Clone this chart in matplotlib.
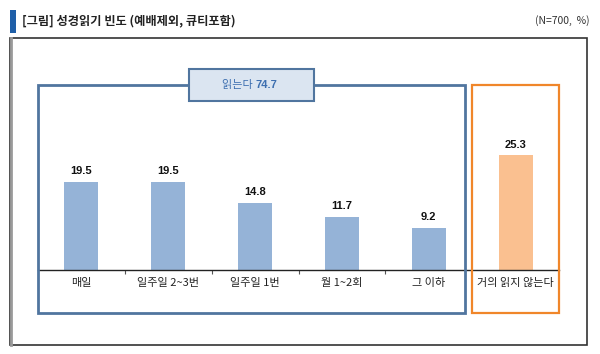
import matplotlib.pyplot as plt
from matplotlib.patches import Rectangle

plt.rcParams['font.family'] = ['Noto Sans CJK KR', 'DejaVu Sans']

categories = ['매일', '일주일 2~3번', '일주일 1번', '월 1~2회', '그 이하', '거의 읽지 않는다']
values = [19.5, 19.5, 14.8, 11.7, 9.2, 25.3]
bar_colors = ['#95b3d7'] * 5 + ['#fac090']
read_label = '읽는다'
read_total = 74.7
title = '[그림] 성경읽기 빈도 (예배제외, 큐티포함)'
note = '(N=700,  %)'

W, H = 600, 354
fig = plt.figure(figsize=(W / 100, H / 100), dpi=100)


def fx(px):
    return px / W


def fy(py):
    return 1 - py / H


def frect(x0, y0, x1, y1, **kw):
    r = Rectangle((fx(x0), fy(y1)), fx(x1) - fx(x0), fy(y0) - fy(y1),
                  transform=fig.transFigure, **kw)
    fig.add_artist(r)
    return r


# header
frect(10, 10, 16, 33, facecolor='#1f5fa8', edgecolor='none')
fig.text(fx(22), fy(21), title, fontsize=8.8, fontweight='bold', color='#222222',
         va='center', ha='left')
fig.text(fx(590), fy(21), note, fontsize=7.5, color='#333333',
         va='center', ha='right')

# outer frame
frect(10, 38, 587, 345, facecolor='none', edgecolor='#333333', linewidth=1.2)
fig.add_artist(plt.Line2D([fx(10.5), fx(10.5)], [fy(38), fy(345)],
                          transform=fig.transFigure, color='#9a9a9a', linewidth=2))

# chart
ax = fig.add_axes([fx(38), fy(270), fx(559) - fx(38), fy(85) - fy(270)])
x = range(len(categories))
ax.bar(x, values, width=0.39, color=bar_colors, zorder=2)
for xi, v in zip(x, values):
    ax.text(xi, v + 1.3, f'{v}', ha='center', va='bottom', fontsize=8,
            fontweight='bold', family=['Liberation Sans', 'DejaVu Sans'],
            color='#111111')
ax.set_xlim(-0.5, len(categories) - 0.5)
ax.set_ylim(0, 185 / 4.53)
for s in ['top', 'right', 'left']:
    ax.spines[s].set_visible(False)
ax.spines['bottom'].set_color('#222222')
ax.spines['bottom'].set_linewidth(1)
ax.set_yticks([])
ax.set_xticks([i + 0.5 for i in range(len(categories) - 2)])
ax.set_xticklabels([])
ax.tick_params(axis='x', length=3, color='#555555', direction='out')
for xi, c in zip(x, categories):
    ax.text(xi, -1.8, c, ha='center', va='top', fontsize=8, fontweight='medium',
            color='#222222')

# group brackets
frect(38, 85, 465, 313, facecolor='none', edgecolor='#50759f', linewidth=2, zorder=5)
frect(472, 85, 559, 313, facecolor='none', edgecolor='#f0862a', linewidth=1.6, zorder=5)
frect(189, 69, 314, 101, facecolor='#dbe5f1', edgecolor='#50759f', linewidth=1.5, zorder=6)
fig.text(fx(255), fy(85), read_label + ' ', fontsize=8, color='#3d6fb0',
         ha='right', va='center', zorder=7)
fig.text(fx(255), fy(85), f'{read_total}', fontsize=8, color='#3d6fb0',
         fontweight='bold', family=['Liberation Sans', 'DejaVu Sans'],
         ha='left', va='center', zorder=7)

fig.savefig('out.png', dpi=100)
